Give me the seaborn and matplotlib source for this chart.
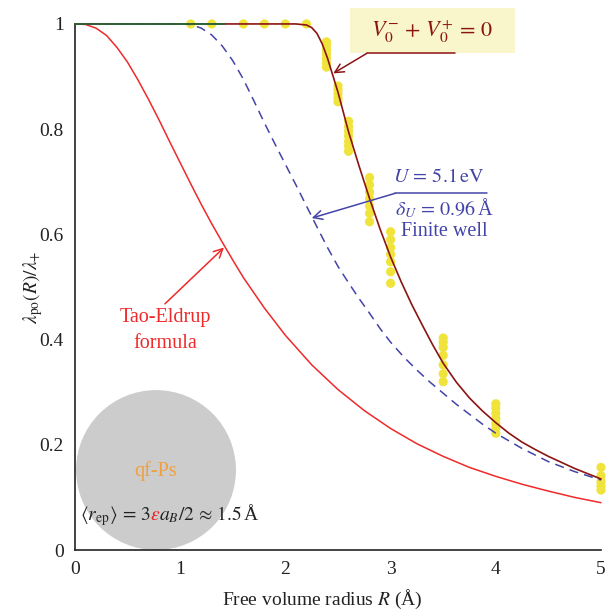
import numpy as np
import pandas as pd
import matplotlib
matplotlib.use("Agg")
import matplotlib.pyplot as plt
from matplotlib.patches import Ellipse, Rectangle
from matplotlib.transforms import offset_copy
import seaborn as sns

# ---------------- data ----------------
te_r = [0, 0.1, 0.2, 0.3, 0.4, 0.5, 0.6, 0.7, 0.8, 0.9, 1.0, 1.1, 1.2, 1.3, 1.4, 1.5,
        1.6, 1.8, 2.0, 2.25, 2.5, 2.75, 3.0, 3.25, 3.5, 3.75, 4.0, 4.25, 4.5, 4.75, 5.0]
te_y = [1.0, 0.999, 0.992, 0.978, 0.955, 0.927, 0.893, 0.856, 0.817, 0.776, 0.736, 0.696,
        0.657, 0.620, 0.585, 0.551, 0.518, 0.460, 0.408, 0.352, 0.305, 0.265, 0.231, 0.202,
        0.178, 0.157, 0.140, 0.125, 0.112, 0.100, 0.090]

fw_r = [0, 1.0, 1.1, 1.2, 1.3, 1.4, 1.5, 1.6, 1.7, 1.8, 1.9, 2.0, 2.1, 2.2, 2.3, 2.4,
        2.5, 2.6, 2.7, 2.8, 2.9, 3.0, 3.125, 3.25, 3.375, 3.5, 3.625, 3.75, 3.875, 4.0,
        4.25, 4.5, 4.75, 5.0]
fw_y = [1.0, 1.0, 0.999, 0.992, 0.979, 0.958, 0.930, 0.895, 0.854, 0.812, 0.772, 0.733,
        0.694, 0.654, 0.614, 0.575, 0.539, 0.508, 0.478, 0.450, 0.421, 0.395, 0.367,
        0.342, 0.319, 0.298, 0.277, 0.258, 0.239, 0.222, 0.193, 0.168, 0.149, 0.133]

v0_r = [0, 2.1, 2.2, 2.25, 2.3, 2.35, 2.4, 2.5, 2.6, 2.7, 2.8, 2.9, 3.0, 3.1, 3.2,
        3.3, 3.4, 3.5, 3.625, 3.75, 3.875, 4.0, 4.125, 4.25, 4.375, 4.5, 4.75, 5.0]
v0_y = [1.0, 1.0, 0.998, 0.993, 0.982, 0.962, 0.935, 0.870, 0.795, 0.730, 0.668, 0.610,
        0.557, 0.510, 0.467, 0.428, 0.390, 0.355, 0.319, 0.289, 0.264, 0.242, 0.222,
        0.205, 0.191, 0.178, 0.155, 0.135]

green_r = [0, 1.43]
green_y = [1.0, 1.0]

exp_r = [1.1, 1.3, 1.6, 1.8, 2.0, 2.2,
         2.39, 2.39, 2.39, 2.39, 2.39, 2.39, 2.39,
         2.5, 2.5, 2.5, 2.5, 2.5,
         2.6, 2.6, 2.6, 2.6, 2.6, 2.6, 2.6,
         2.8, 2.8, 2.8, 2.8, 2.8, 2.8, 2.8,
         3.0, 3.0, 3.0, 3.0, 3.0, 3.0, 3.0,
         3.5, 3.5, 3.5, 3.5, 3.5, 3.5, 3.5,
         4.0, 4.0, 4.0, 4.0, 4.0, 4.0, 4.0,
         5.0, 5.0, 5.0, 5.0, 5.0]
exp_y = [1.0, 1.0, 1.0, 1.0, 1.0, 1.0,
         0.966, 0.959, 0.951, 0.943, 0.935, 0.926, 0.918,
         0.882, 0.875, 0.867, 0.859, 0.852,
         0.815, 0.805, 0.796, 0.787, 0.777, 0.768, 0.758,
         0.708, 0.694, 0.680, 0.668, 0.654, 0.640, 0.624,
         0.605, 0.590, 0.575, 0.562, 0.548, 0.529, 0.507,
         0.403, 0.395, 0.385, 0.370, 0.352, 0.335, 0.320,
         0.278, 0.270, 0.260, 0.250, 0.240, 0.231, 0.222,
         0.157, 0.141, 0.130, 0.122, 0.114]

x_ticks = [0, 1, 2, 3, 4, 5]
y_ticks = [0, 0.2, 0.4, 0.6, 0.8, 1]
y_ticklabels = ["0", "0.2", "0.4", "0.6", "0.8", "1"]

# ---------------- style ----------------
sns.set_style("white")
plt.rcParams["font.family"] = ["Liberation Serif", "DejaVu Serif"]
plt.rcParams["mathtext.fontset"] = "stix"

RED = "#ee2a2a"
DARKRED = "#8a1414"
BLUE = "#4444a8"
GREEN = "#1f6b3a"
YELLOW = "#f0e43c"

fig = plt.figure(figsize=(6.08, 6.14), dpi=100)
ax = fig.add_axes([0.1234, 0.1042, 0.8651, 0.8568])

# grey disc
ax.add_patch(Ellipse((0.77, 0.152), width=1.52, height=0.304,
                     facecolor="#cccccc", edgecolor="none", zorder=0.5))

df_te = pd.DataFrame({"R": te_r, "v": te_y})
df_fw = pd.DataFrame({"R": fw_r, "v": fw_y})
df_v0 = pd.DataFrame({"R": v0_r, "v": v0_y})
df_g = pd.DataFrame({"R": green_r, "v": green_y})
df_exp = pd.DataFrame({"R": exp_r, "v": exp_y})

sns.scatterplot(data=df_exp, x="R", y="v", ax=ax, color=YELLOW, s=44,
                edgecolor="none", linewidth=0, zorder=2, clip_on=False)
sns.lineplot(data=df_te, x="R", y="v", ax=ax, color=RED, lw=1.1,
             estimator=None, sort=False, zorder=3)
sns.lineplot(data=df_fw, x="R", y="v", ax=ax, color=BLUE, lw=1.1,
             estimator=None, sort=False, zorder=3, linestyle=(0, (6, 4)))
sns.lineplot(data=df_v0, x="R", y="v", ax=ax, color=DARKRED, lw=1.2,
             estimator=None, sort=False, zorder=4)
sns.lineplot(data=df_g, x="R", y="v", ax=ax, color=GREEN, lw=1.2,
             estimator=None, sort=False, zorder=5)
for ln in ax.lines:
    ln.set_clip_on(False)

ax.set_xlim(0, 5)
ax.set_ylim(0, 1)
ax.set_xticks(x_ticks)
ax.set_xticklabels([str(t) for t in x_ticks])
ax.set_xticks(np.arange(0, 5.01, 0.5), minor=True)
ax.set_yticks(y_ticks)
ax.set_yticklabels(y_ticklabels)
ax.set_yticks(np.arange(0, 1.01, 0.1), minor=True)
ax.tick_params(which="both", direction="in", length=5, width=1.0,
               labelsize=14, pad=8, colors="#222222", labelcolor="#222222")
for s in ["top", "right"]:
    ax.spines[s].set_visible(False)
for s in ["left", "bottom"]:
    ax.spines[s].set_linewidth(1.2)
    ax.spines[s].set_color("#222222")

ax.set_xlabel("Free volume radius $R$ (Å)", fontsize=14, color="#222222")
ax.set_ylabel(r"$\lambda_{\rm po}(R)/\lambda_{+}$", fontsize=14, color="#222222")
ax.xaxis.set_label_coords(0.47, -0.072)
ax.yaxis.set_label_coords(-0.058, 0.5)

# V0 annotation box
ax.add_patch(Rectangle((2.614, 0.944), 4.18 - 2.614, 0.086, facecolor="#faf6cc",
                       edgecolor="none", clip_on=False, zorder=1))
ax.text(3.39, 0.985, r"$V_0^{-}\,+\,V_0^{+}\,=\,0$", color=DARKRED, fontsize=16,
        ha="center", va="center", zorder=6, clip_on=False)
ax.plot([2.773, 3.612], [0.944, 0.944], color=DARKRED, lw=1.1, zorder=6, clip_on=False)
ax.annotate("", xy=(2.455, 0.906), xytext=(2.773, 0.944),
            arrowprops=dict(arrowstyle="->", color=DARKRED, lw=1.1,
                            shrinkA=0, shrinkB=0, mutation_scale=16), zorder=6)

# finite-well annotation
ax.text(3.46, 0.709, r"$U\,=\,5.1\,\mathrm{eV}$", color=BLUE, fontsize=14.5,
        ha="center", va="center", zorder=6)
ax.plot([3.042, 3.914], [0.678, 0.678], color=BLUE, lw=1.1, zorder=6)
ax.text(3.51, 0.650, r"$\delta_U\,=\,0.96\,$Å", color=BLUE, fontsize=14.5,
        ha="center", va="center", zorder=6)
ax.text(3.515, 0.605, "Finite well", color=BLUE, fontsize=14.5,
        ha="center", va="center", zorder=6)
ax.annotate("", xy=(2.25, 0.631), xytext=(3.042, 0.678),
            arrowprops=dict(arrowstyle="->", color=BLUE, lw=1.1,
                            shrinkA=0, shrinkB=0, mutation_scale=16), zorder=6)

# Tao-Eldrup annotation
ax.text(0.855, 0.417, "Tao-Eldrup\nformula", color=RED, fontsize=14.5,
        ha="center", va="center", linespacing=1.45, zorder=6)
ax.annotate("", xy=(1.416, 0.575), xytext=(0.855, 0.468),
            arrowprops=dict(arrowstyle="->", color=RED, lw=1.1,
                            shrinkA=0, shrinkB=0, mutation_scale=16), zorder=6)

# disc texts
ax.text(0.77, 0.151, "qf-Ps", color="#f0a040", fontsize=14.5,
        ha="center", va="center", zorder=6)

x0, y0 = 0.05, 0.057
t1 = ax.text(x0, y0, r"$\langle r_{\rm ep}\rangle\,=\,3$", color="#222222",
             fontsize=14, ha="left", va="baseline", zorder=6)
fig.canvas.draw()
rend = fig.canvas.get_renderer()
base_x = ax.transData.transform((x0, y0))[0]
bb1 = t1.get_window_extent(rend)
t2 = ax.text(x0, y0, r"$\varepsilon$", color="#ee1c1c", fontsize=14, ha="left",
             va="baseline", zorder=6,
             transform=offset_copy(ax.transData, fig=fig, x=bb1.x1 - base_x - 1.5,
                                   y=0, units="dots"))
fig.canvas.draw()
bb2 = t2.get_window_extent(rend)
ax.text(x0, y0, r"$a_B/2\,\approx\,1.5\,$Å", color="#222222", fontsize=14,
        ha="left", va="baseline", zorder=6,
        transform=offset_copy(ax.transData, fig=fig, x=bb2.x1 - base_x - 1.5,
                              y=0, units="dots"))

fig.savefig("out.png", dpi=100)
